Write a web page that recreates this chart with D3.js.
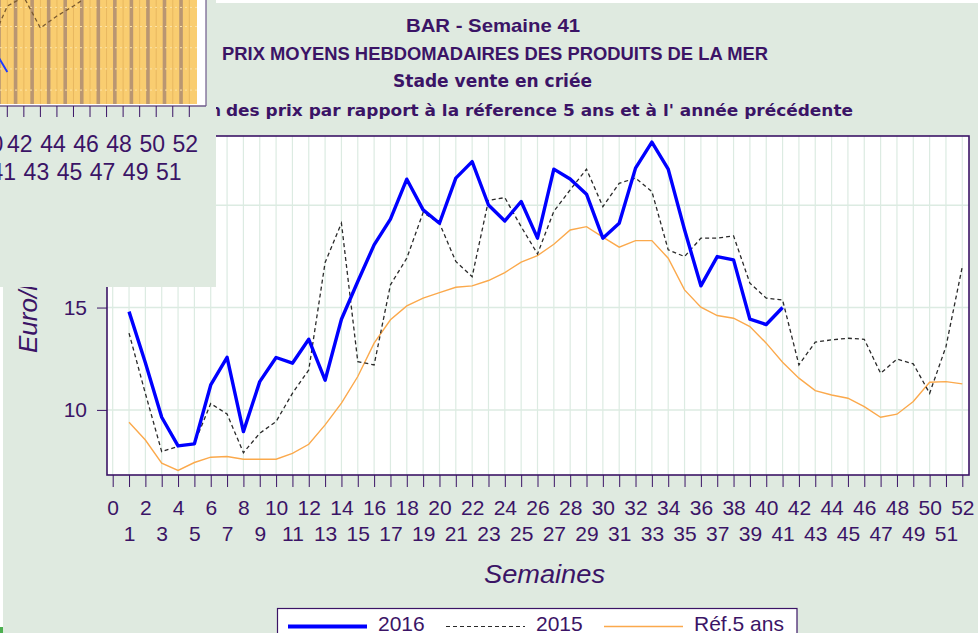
<!DOCTYPE html>
<html>
<head>
<meta charset="utf-8">
<script src="https://cdn.jsdelivr.net/npm/d3@7"></script>
<style>
  html, body { margin: 0; padding: 0; background: #dfeae0; overflow: hidden; }
  svg { display: block; }
  text { font-family: "Liberation Sans", Arial, sans-serif; fill: #3b1466; }
</style>
</head>
<body>
<svg id="chart" width="978" height="633"></svg>
<script>
// prix moyens hebdomadaires (euro/kg), semaine 1 -> n
const prix2016 = [14.80, 12.30, 9.64, 8.24, 8.34, 11.22, 12.57, 8.94, 11.38, 12.56,
  12.28, 13.45, 11.45, 14.43, 16.27, 18.06, 19.32, 21.27, 19.77, 19.12,
  21.32, 22.13, 20.01, 19.23, 20.18, 18.39, 21.76, 21.28, 20.54, 18.39,
  19.12, 21.81, 23.08, 21.76, 18.80, 16.06, 17.49, 17.33, 14.43, 14.17, 15.00];
const prix2015 = [13.75, 10.80, 7.96, 8.22, 8.37, 10.31, 9.80, 7.91, 8.86, 9.43,
  10.81, 11.95, 17.20, 19.12, 12.36, 12.20, 16.11, 17.41, 19.64, 19.12,
  17.25, 16.51, 20.23, 20.37, 18.95, 17.62, 19.70, 20.75, 21.76, 19.93,
  21.07, 21.32, 20.67, 17.82, 17.49, 18.39, 18.39, 18.50, 16.19, 15.46,
  15.37, 12.20, 13.31, 13.42, 13.50, 13.45, 11.79, 12.48, 12.25, 10.81,
  13.09, 17.00];
const ref5ans = [9.40, 8.53, 7.40, 7.04, 7.43, 7.69, 7.72, 7.59, 7.59, 7.59,
  7.88, 8.32, 9.27, 10.33, 11.63, 13.26, 14.40, 15.08, 15.46, 15.73,
  15.99, 16.06, 16.32, 16.71, 17.22, 17.54, 18.09, 18.79, 18.95, 18.44,
  17.95, 18.27, 18.27, 17.41, 15.86, 15.02, 14.61, 14.48, 14.07, 13.26,
  12.33, 11.55, 10.94, 10.73, 10.57, 10.16, 9.64, 9.79, 10.41, 11.35,
  11.38, 11.27];

const semaines = d3.range(0, 53);      // ticks 0..52
const yTicks = [10, 15, 20];
const legendItems = ['2016', '2015', 'Réf.5 ans'];

// inset (other chart partly covering the top left)
const insetWeeks = d3.range(41, 53);
const insetLabels = d3.range(40, 53);
const insetDash = [58.5, 94.3, 102.8, 73.6, 84.9, 94.3, 104.7];   // weeks 40..46, % of height
const insetBlue = [58.5, 32.1];                                    // weeks 40..41

const ink = '#3b1466';
const svg = d3.select('#chart');

const plot = { left: 107, right: 969, top: 136, bottom: 475 };
const x = d3.scaleLinear().domain([0, 52]).range([112.7, 962.3]);
const y = d3.scaleLinear().domain([6.82, 23.38]).range([plot.bottom, plot.top]);

// titles
svg.append('text').attr('x', 406).attr('y', 32)
  .attr('font-size', 19).attr('font-weight', 'bold')
  .attr('textLength', 174).attr('lengthAdjust', 'spacingAndGlyphs')
  .text('BAR - Semaine 41');
svg.append('text').attr('x', 222).attr('y', 60)
  .attr('font-size', 18.5).attr('font-weight', 'bold')
  .attr('textLength', 546).attr('lengthAdjust', 'spacingAndGlyphs')
  .text('PRIX MOYENS HEBDOMADAIRES DES PRODUITS DE LA MER');
svg.append('text').attr('x', 393).attr('y', 87)
  .style('font-family', '"DejaVu Sans", Verdana, sans-serif')
  .attr('font-size', 17).attr('font-weight', 'bold')
  .attr('textLength', 199).attr('lengthAdjust', 'spacingAndGlyphs')
  .text('Stade vente en criée');
svg.append('text').attr('x', 221).attr('y', 116).attr('text-anchor', 'end')
  .style('font-family', '"DejaVu Sans", Verdana, sans-serif')
  .attr('font-size', 15).attr('font-weight', 'bold')
  .text('Evolution');
svg.append('text').attr('x', 226).attr('y', 116)
  .style('font-family', '"DejaVu Sans", Verdana, sans-serif')
  .attr('font-size', 15).attr('font-weight', 'bold')
  .attr('textLength', 627).attr('lengthAdjust', 'spacingAndGlyphs')
  .text("des prix par rapport à la réference 5 ans et à l' année précédente");

// plot area
svg.append('rect')
  .attr('x', plot.left).attr('y', plot.top)
  .attr('width', plot.right - plot.left).attr('height', plot.bottom - plot.top)
  .attr('fill', '#ffffff');

const grid = svg.append('g').attr('stroke', '#dcebe2');
grid.selectAll('.vg').data(semaines).join('line')
  .attr('class', 'vg')
  .attr('x1', d => x(d)).attr('x2', d => x(d))
  .attr('y1', plot.top).attr('y2', plot.bottom)
  .attr('stroke-width', 1.2);
grid.selectAll('.hg').data(yTicks).join('line')
  .attr('class', 'hg')
  .attr('x1', plot.left).attr('x2', plot.right)
  .attr('y1', d => y(d)).attr('y2', d => y(d))
  .attr('stroke-width', 1.5);

// series
const line = d3.line().x((d, i) => x(i + 1)).y(d => y(d));
svg.append('path').datum(ref5ans)
  .attr('d', line).attr('fill', 'none')
  .attr('stroke', '#fba94c').attr('stroke-width', 1.4);
svg.append('path').datum(prix2015)
  .attr('d', line).attr('fill', 'none')
  .attr('stroke', '#2a2a2a').attr('stroke-width', 1.3)
  .attr('stroke-dasharray', '4,3');
svg.append('path').datum(prix2016)
  .attr('d', line).attr('fill', 'none')
  .attr('stroke', '#0000ff').attr('stroke-width', 3.4)
  .attr('stroke-linejoin', 'round');

// frame
svg.append('rect')
  .attr('x', plot.left).attr('y', plot.top)
  .attr('width', plot.right - plot.left).attr('height', plot.bottom - plot.top)
  .attr('fill', 'none').attr('stroke', ink).attr('stroke-width', 1.6);

// axes
const xAxis = svg.append('g')
  .attr('transform', `translate(0,${plot.bottom})`)
  .call(d3.axisBottom(x).tickValues(semaines).tickSize(12).tickFormat(d3.format('d')));
xAxis.select('.domain').remove();
xAxis.selectAll('.tick line').attr('stroke', ink);
xAxis.selectAll('.tick text')
  .attr('dy', null)
  .attr('y', d => d % 2 ? 65.5 : 40)
  .attr('font-size', 21)
  .style('font-family', '"Liberation Sans", Arial, sans-serif')
  .attr('fill', ink);

const yAxis = svg.append('g')
  .attr('transform', `translate(${plot.left},0)`)
  .call(d3.axisLeft(y).tickValues(yTicks).tickSize(10).tickPadding(10));
yAxis.select('.domain').remove();
yAxis.selectAll('.tick line').attr('stroke', ink);
yAxis.selectAll('.tick text')
  .attr('font-size', 21)
  .style('font-family', '"Liberation Sans", Arial, sans-serif')
  .attr('fill', ink);

svg.append('text')
  .attr('transform', 'translate(37,353) rotate(-90)')
  .attr('font-size', 26).attr('font-style', 'italic')
  .text('Euro/kg');

svg.append('text').attr('x', 484).attr('y', 583)
  .attr('font-size', 26).attr('font-style', 'italic')
  .attr('textLength', 121).attr('lengthAdjust', 'spacingAndGlyphs')
  .text('Semaines');

// legend
const legend = svg.append('g');
legend.append('rect')
  .attr('x', 277.5).attr('y', 608.5).attr('width', 519.5).attr('height', 40)
  .attr('fill', '#ffffff').attr('stroke', ink).attr('stroke-width', 1.2);
const legX = [288, 446, 604];
const legStyles = [
  { stroke: '#0000ff', width: 4, dash: null },
  { stroke: '#2a2a2a', width: 1.2, dash: '4,3' },
  { stroke: '#fba94c', width: 1.4, dash: null }
];
legendItems.forEach((name, i) => {
  legend.append('line')
    .attr('x1', legX[i]).attr('x2', legX[i] + 79)
    .attr('y1', 626.5).attr('y2', 626.5)
    .attr('stroke', legStyles[i].stroke)
    .attr('stroke-width', legStyles[i].width)
    .attr('stroke-dasharray', legStyles[i].dash);
  legend.append('text')
    .attr('x', legX[i] + 90).attr('y', 631)
    .attr('font-size', 21)
    .text(name);
});

// edges of the screenshot
svg.append('rect').attr('x', 216).attr('y', 0).attr('width', 762).attr('height', 3).attr('fill', '#ffffff');
svg.append('rect').attr('x', 0).attr('y', 287).attr('width', 3).attr('height', 346).attr('fill', '#ffffff');
svg.append('rect').attr('x', 0).attr('y', 627).attr('width', 3).attr('height', 6).attr('fill', '#4caf50');

// inset panel
const inset = svg.append('g');
const ix = d3.scaleLinear().domain([41, 52]).range([7.3, 189.3]);
const iy = d3.scaleLinear().domain([0, 100]).range([106, 0]);
inset.append('rect').attr('x', 0).attr('y', 0).attr('width', 216).attr('height', 287).attr('fill', '#dfeae0');
inset.append('rect').attr('x', 0).attr('y', 0).attr('width', 206).attr('height', 106).attr('fill', '#ffffff');
inset.append('rect').attr('x', 0).attr('y', 0).attr('width', 197).attr('height', 104).attr('fill', '#f9cd70');
inset.selectAll('.stripe').data(d3.range(40, 52)).join('rect')
  .attr('class', 'stripe')
  .attr('x', d => ix(d + 0.5) - 1.8).attr('y', 0)
  .attr('width', 3.6).attr('height', 104)
  .attr('fill', '#b99672');
inset.selectAll('.istripe').data(insetWeeks).join('line')
  .attr('class', 'istripe')
  .attr('x1', d => ix(d)).attr('x2', d => ix(d))
  .attr('y1', 0).attr('y2', 104)
  .attr('stroke', '#e8b860').attr('stroke-width', 1);
inset.selectAll('.ihg').data([15, 35, 55, 75, 93]).join('line')
  .attr('class', 'ihg')
  .attr('x1', 0).attr('x2', 197)
  .attr('y1', d => iy(d)).attr('y2', d => iy(d))
  .attr('stroke', '#fbe2a6').attr('stroke-width', 1)
  .attr('stroke-dasharray', '2,3');
const iline = d3.line().x((d, i) => ix(40 + i)).y(d => iy(d));
inset.append('path').datum(insetDash)
  .attr('d', iline).attr('fill', 'none')
  .attr('stroke', '#7a5a30').attr('stroke-width', 1.3).attr('stroke-dasharray', '4,3');
inset.append('path').datum(insetBlue)
  .attr('d', iline).attr('fill', 'none')
  .attr('stroke', '#1e3cff').attr('stroke-width', 2);
inset.append('line').attr('x1', 0).attr('x2', 206).attr('y1', 106).attr('y2', 106)
  .attr('stroke', '#6e5a8a').attr('stroke-width', 1.4);
inset.append('line').attr('x1', 206).attr('x2', 206).attr('y1', 0).attr('y2', 106)
  .attr('stroke', '#6e5a8a').attr('stroke-width', 1.2);
inset.selectAll('.itick').data(insetWeeks).join('line')
  .attr('class', 'itick')
  .attr('x1', d => ix(d)).attr('x2', d => ix(d))
  .attr('y1', 106).attr('y2', 117)
  .attr('stroke', ink);
inset.selectAll('.ilab').data(insetLabels).join('text')
  .attr('class', 'ilab')
  .attr('x', d => d === 40 ? -9.5 : ix(d) - 4).attr('y', d => d % 2 ? 180 : 151.5)
  .attr('text-anchor', 'middle')
  .attr('font-size', 23)
  .text(d => d);
</script>
</body>
</html>
